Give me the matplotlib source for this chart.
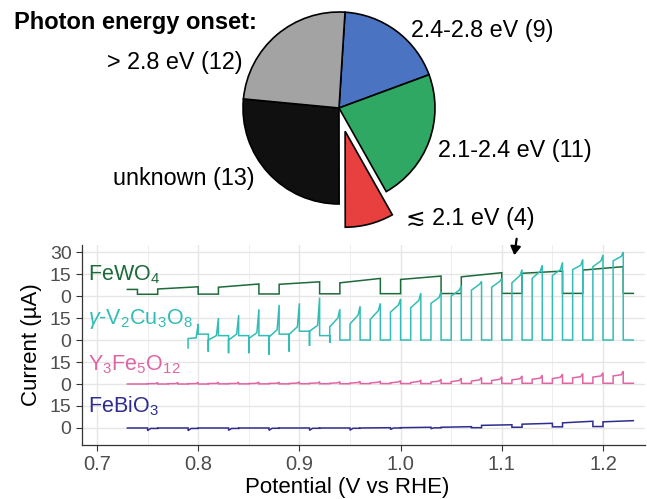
import matplotlib
matplotlib.use("Agg")
import matplotlib.pyplot as plt
import numpy as np

plt.rcParams["font.family"] = ["Liberation Sans", "DejaVu Sans"]
plt.rcParams["mathtext.fontset"] = "custom"
plt.rcParams["mathtext.rm"] = "Liberation Sans"
plt.rcParams["mathtext.it"] = "Liberation Sans:italic"

# ---- pie data (photon energy onset) ----
pie_labels = ["2.4-2.8 eV (9)", "2.1-2.4 eV (11)", "\u2272 2.1 eV (4)", "unknown (13)", "> 2.8 eV (12)"]
pie_counts = [9, 11, 4, 13, 12]
pie_colors = ["#4a73c2", "#2fa864", "#e8403f", "#101010", "#a3a3a3"]

# ---- FeWO4 (light on/off segments) ----
fw_on = [0.73, 0.76, 0.82, 0.88, 0.94, 1.00, 1.06, 1.12, 1.18]
fw_off = [0.74, 0.80, 0.86, 0.92, 0.98, 1.04, 1.10, 1.16, 1.22]
fw_y0 = [4.5, 4.8, 6.0, 8.0, 9.0, 11.3, 13.1, 15.5, 17.7]
fw_y1 = [4.5, 6.3, 8.2, 9.7, 12.0, 13.6, 15.9, 17.0, 20.0]
fw_dark = [1.2, 1.3, 1.4, 1.5, 1.6, 1.7, 1.8, 1.8, 1.8]
fw_end = 1.23

# ---- gamma-V2Cu3O8 ----
vc_odd = [0.79, 0.81, 0.83, 0.85, 0.87, 0.89, 0.91, 0.93, 0.95, 0.97, 0.99,
          1.01, 1.03, 1.05, 1.07, 1.09, 1.11, 1.13, 1.15, 1.17, 1.19, 1.21]
vc_even = [0.80, 0.82, 0.84, 0.86, 0.88, 0.90, 0.92, 0.94, 0.96, 0.98, 1.00,
           1.02, 1.04, 1.06, 1.08, 1.10, 1.12, 1.14, 1.16, 1.18, 1.20, 1.22]
vc_dip = [-5.5, -8, -9, -9, -10, -8, -4, -2, 0, 0, 0,
          0, 0, 0, 0, 0, 0, 0, 0, 0, 0, 0]
vc_b0 = [1, 0, 0, 1, 2, 4, 6, 9, 11, 14, 19,
         22, 25, 30, 34, 36, 39, 42, 44, 48, 50, 54]
vc_b1 = [1.5, 3, 4, 5, 7, 9, 10, 15, 17, 20, 24,
         27, 29, 34, 38, 40, 44, 47, 48, 51, 54, 57]
vc_peak = [11, 15, 17, 21, 24, 25, 29, 21, 23, 25, 28,
           32, 33, 37, 40, 42, 48, 51, 53, 55, 58, 60]
vc_dark = [4, 3, 3, 3, 4, 6, 3, 0, 0, 0, 0,
           0, 0, 0, 0, 0, 0, 0, 0, 0, 0, 0]
vc_end = 1.23

# ---- Y3Fe5O12 ----
py_on = [0.75, 0.77, 0.79, 0.81, 0.83, 0.85, 0.87, 0.89, 0.91, 0.93, 0.95, 0.97,
         0.99, 1.01, 1.03, 1.05, 1.07, 1.09, 1.11, 1.13, 1.15, 1.17, 1.19, 1.21]
py_off = [0.76, 0.78, 0.80, 0.82, 0.84, 0.86, 0.88, 0.90, 0.92, 0.94, 0.96, 0.98,
          1.00, 1.02, 1.04, 1.06, 1.08, 1.10, 1.12, 1.14, 1.16, 1.18, 1.20, 1.22]
py_b0 = [0.2, 0.2, 0.2, 0.3, 0.3, 0.3, 0.4, 0.4, 0.5, 0.5, 0.6, 0.7,
         0.8, 1.0, 1.3, 1.6, 2.0, 2.4, 2.8, 3.2, 3.7, 4.2, 4.7, 5.5]
py_b1 = [0.3, 0.3, 0.3, 0.4, 0.4, 0.5, 0.5, 0.6, 0.7, 0.8, 1.0, 1.2,
         1.4, 1.7, 2.0, 2.4, 2.8, 3.2, 3.6, 4.0, 4.6, 5.0, 5.5, 6.3]
py_peak = [1.0, 1.0, 1.1, 1.2, 1.2, 1.3, 1.3, 1.5, 1.5, 1.6, 1.8, 2.0,
           2.3, 2.7, 3.2, 4.0, 4.5, 5.0, 5.5, 6.0, 6.8, 7.2, 7.7, 8.8]
py_base = [0.0, 0.0, 0.0, 0.1, 0.1, 0.1, 0.1, 0.2, 0.2, 0.2, 0.3, 0.3,
           0.3, 0.3, 0.4, 0.4, 0.4, 0.4, 0.5, 0.5, 0.5, 0.5, 0.5, 0.5]
py_start = 0.73
py_end = 1.23

# ---- FeBiO3 ----
fb_drop = [0.75, 0.79, 0.83, 0.87, 0.91, 0.95, 0.99, 1.03, 1.07, 1.11, 1.15, 1.19]
fb_rise = [0.76, 0.80, 0.84, 0.88, 0.92, 0.96, 1.00, 1.04, 1.08, 1.12, 1.16, 1.20]
fb_hi1 = [0, 0, 0, 0, 0, 0, 0.2, 0.5, 0.9, 2.2, 3.2, 4.6]
fb_dip = [-1.8, -1.8, -1.6, -1.6, -1.6, -1.5, -1.0, -0.5, 0.2, 0.5, 0.8, 1.0]
fb_lo = [-0.3, -0.3, -0.3, -0.2, -0.2, -0.2, 0, 0.1, 0.2, 0.5, 0.8, 1.0]
fb_hi0 = [0, 0, 0, 0, 0, 0, 0.2, 0.5, 1.8, 2.6, 3.5, 4.2]
fb_start = 0.73
fb_end = 1.23
fb_end_val = 5.0

trace_names = ["FeWO$_4$", "$\\gamma$-V$_2$Cu$_3$O$_8$", "Y$_3$Fe$_5$O$_{12}$", "FeBiO$_3$"]
trace_colors = ["#1d6a3b", "#33bdb6", "#e066a3", "#2e2d8e"]
trace_offsets = [0, -30, -60, -90]


def fewo4_path():
    xs, ys = [], []
    for i in range(len(fw_on)):
        xs += [fw_on[i], fw_off[i], fw_off[i]]
        ys += [fw_y0[i], fw_y1[i], fw_dark[i]]
        if i + 1 < len(fw_on):
            xs.append(fw_on[i + 1])
        else:
            xs.append(fw_end)
        ys.append(fw_dark[i])
    return xs, ys


def vc_path():
    xs, ys = [], []
    for j in range(len(vc_odd)):
        xs += [vc_odd[j], vc_odd[j], vc_even[j] - 0.002, vc_even[j], vc_even[j]]
        ys += [vc_dip[j], vc_b0[j], vc_b1[j], vc_peak[j], vc_dark[j]]
        xs.append(vc_odd[j + 1] if j + 1 < len(vc_odd) else vc_end)
        ys.append(vc_dark[j])
    return xs, ys


def py_path():
    xs, ys = [py_start], [py_base[0]]
    for j in range(len(py_on)):
        prev = py_base[j - 1] if j > 0 else py_base[0]
        xs += [py_on[j], py_on[j], py_off[j] - 0.002, py_off[j], py_off[j]]
        ys += [prev, py_b0[j], py_b1[j], py_peak[j], py_base[j]]
    xs.append(py_end)
    ys.append(py_base[-1])
    return xs, ys


def fb_path():
    xs, ys = [fb_start], [0]
    for k in range(len(fb_drop)):
        xs += [fb_drop[k], fb_drop[k], fb_drop[k] + 0.003, fb_rise[k], fb_rise[k]]
        ys += [fb_hi1[k], fb_dip[k], fb_lo[k], fb_lo[k], fb_hi0[k]]
    xs.append(fb_end)
    ys.append(fb_end_val)
    return xs, ys


W, H = 647, 499
fig = plt.figure(figsize=(W / 100, H / 100), dpi=100)


def px(x, y):
    return x / W, 1 - y / H


# ---- line panel ----
ax = fig.add_axes([82 / W, 1 - 445 / H, (645 - 82) / W, (445 - 245) / H])
paths = [fewo4_path(), vc_path(), py_path(), fb_path()]
for (xs, ys), c, off in zip(paths, trace_colors, trace_offsets):
    ax.plot(xs, np.array(ys) + off, color=c, lw=1.1, solid_joinstyle="miter")

label_y = [14.5, -16.0, -47.0, -75.0]
for name, c, yy in zip(trace_names, trace_colors, label_y):
    ax.text(0.691, yy, name, color=c, fontsize=15.5, va="center", ha="left")

ax.set_xlim(0.6852, 1.2415)
ax.set_ylim(-101.6, 34.8)
yt = [30, 15, 0, -15, -30, -45, -60, -75, -90]
ax.set_yticks(yt)
ax.set_yticklabels(["30", "15", "0", "15", "0", "15", "0", "15", "0"])
ax.set_xticks([0.7, 0.8, 0.9, 1.0, 1.1, 1.2])
ax.set_xticks([0.75, 0.85, 0.95, 1.05, 1.15], minor=True)
ax.grid(which="major", color="#e6e6e6", lw=1.0)
ax.grid(which="minor", axis="x", color="#eeeeee", lw=0.7)
ax.set_axisbelow(True)
for s in ["top", "right"]:
    ax.spines[s].set_visible(False)
for s in ["left", "bottom"]:
    ax.spines[s].set_color("#333333")
    ax.spines[s].set_linewidth(0.9)
ax.tick_params(which="major", length=4, color="#333333", labelcolor="#4d4d4d", labelsize=14)
ax.tick_params(axis="x", labelsize=14.5)
ax.tick_params(which="minor", length=0)
ax.set_xlabel("Potential (V vs RHE)", fontsize=16, va="center")
ax.set_ylabel("Current (\u00b5A)", fontsize=16, va="center")
ax.xaxis.set_label_coords((347 - 82) / 563, (445 - 488) / 200)
ax.yaxis.set_label_coords((31 - 82) / 563, 0.5)

# ---- pie ----
r_px = 96
cx, cy = 339, 108
side = 2.6 * r_px
axp = fig.add_axes([(cx - side / 2) / W, 1 - (cy + side / 2) / H, side / W, side / H])
wedges, _ = axp.pie(pie_counts, colors=pie_colors, startangle=86.4, counterclock=False,
                    explode=[0, 0, 0.25, 0, 0],
                    wedgeprops=dict(edgecolor="black", linewidth=1.2))
for w in wedges:
    w.set_clip_on(False)
axp.set_xlim(-1.3, 1.3)
axp.set_ylim(-1.3, 1.3)
axp.axis("off")

fig.text(*px(14, 22), "Photon energy onset:", fontsize=17, fontweight="bold", ha="left", va="center")
fig.text(*px(411, 30), pie_labels[0], fontsize=16.8, ha="left", va="center")
fig.text(*px(438, 150), pie_labels[1], fontsize=16.8, ha="left", va="center")
fig.text(*px(406, 218), pie_labels[2], fontsize=16.8, ha="left", va="center")
fig.text(*px(255, 178), pie_labels[3], fontsize=16.8, ha="right", va="center")
fig.text(*px(243, 63), pie_labels[4], fontsize=16.8, ha="right", va="center")

fig.patches.append(matplotlib.patches.FancyArrowPatch(
    px(517, 236), px(514, 258), transform=fig.transFigure,
    arrowstyle="-|>,head_length=5,head_width=3", color="black", lw=1.6))

fig.savefig("out.png", dpi=100)
